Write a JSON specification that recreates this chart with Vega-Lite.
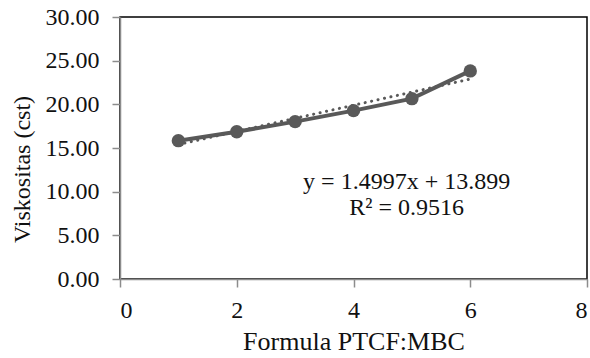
{
  "$schema": "https://vega.github.io/schema/vega-lite/v6.json",
  "autosize": "none",
  "width": 467,
  "height": 262,
  "padding": {"left": 120, "top": 17, "right": 3, "bottom": 79},
  "background": "white",
  "config": {
    "font": "Liberation Serif",
    "view": {"stroke": "black", "strokeWidth": 1.5},
    "axis": {
      "grid": false,
      "domainColor": "#8c8c8c",
      "domainWidth": 1.5,
      "tickColor": "#8c8c8c",
      "tickWidth": 1.5,
      "tickSize": 8,
      "labelColor": "#111111",
      "labelFont": "Liberation Serif",
      "labelFontSize": 24,
      "titleFont": "Liberation Serif",
      "titleFontSize": 24,
      "titleFontWeight": "normal",
      "titleColor": "#111111"
    }
  },
  "datasets": {
    "pts": [
      {"x": 1, "y": 15.84},
      {"x": 2, "y": 16.87},
      {"x": 3, "y": 18.02},
      {"x": 4, "y": 19.28},
      {"x": 5, "y": 20.65},
      {"x": 6, "y": 23.83}
    ],
    "trend": [
      {"x": 1, "y": 15.3987},
      {"x": 6, "y": 22.8972}
    ],
    "labels": [
      {"x": 4.91, "y": 11.1, "t": "y = 1.4997x + 13.899"},
      {"x": 4.91, "y": 8.1, "t": "R² = 0.9516"}
    ]
  },
  "layer": [
    {
      "data": {"name": "trend"},
      "mark": {"type": "line", "color": "#595959", "strokeWidth": 3, "strokeDash": [0.1, 6.5], "strokeCap": "round"},
      "encoding": {
        "x": {"field": "x", "type": "quantitative", "scale": {"domain": [0, 8]},
          "axis": {"values": [0, 2, 4, 6, 8], "format": "d", "title": "Formula PTCF:MBC", "titleFontSize": 26, "labelPadding": 11, "titlePadding": 6}},
        "y": {"field": "y", "type": "quantitative", "scale": {"domain": [0, 30]},
          "axis": {"values": [0, 5, 10, 15, 20, 25, 30], "format": ".2f", "title": "Viskositas (cst)", "labelPadding": 13, "titlePadding": 11, "titleY": 152}}
      }
    },
    {
      "data": {"name": "pts"},
      "mark": {"type": "line", "color": "#595959", "strokeWidth": 4, "point": {"filled": true, "size": 180, "color": "#595959", "opacity": 1}},
      "encoding": {
        "x": {"field": "x", "type": "quantitative"},
        "y": {"field": "y", "type": "quantitative"}
      }
    },
    {
      "data": {"name": "labels"},
      "mark": {"type": "text", "font": "Liberation Serif", "fontSize": 24, "color": "#111111", "align": "center", "baseline": "middle"},
      "encoding": {
        "x": {"field": "x", "type": "quantitative"},
        "y": {"field": "y", "type": "quantitative"},
        "text": {"field": "t"}
      }
    }
  ]
}
